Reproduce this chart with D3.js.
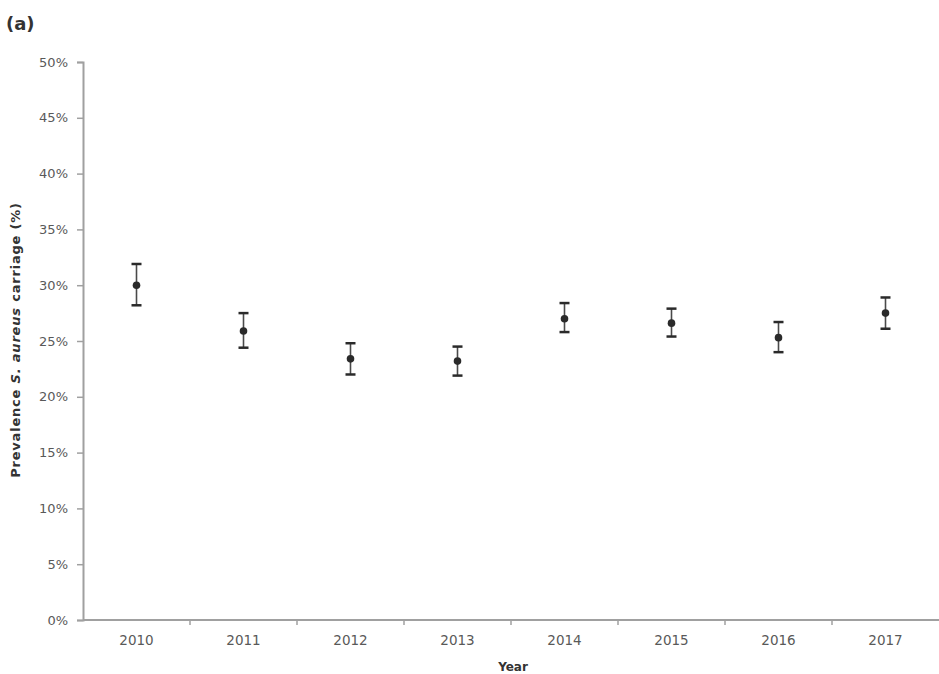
<!DOCTYPE html>
<html>
<head>
<meta charset="utf-8">
<script src="https://cdn.jsdelivr.net/npm/d3@7"></script>
<style>
  html, body { margin: 0; padding: 0; background: #fff; }
  svg { display: block; font-family: "DejaVu Sans", sans-serif; }
</style>
</head>
<body>
<svg id="chart" width="939" height="674"></svg>
<script>
// Prevalence of S. aureus carriage by year, with 95% CI bounds (%)
const years = ["2010", "2011", "2012", "2013", "2014", "2015", "2016", "2017"];
const prevalence = [30.0, 25.9, 23.4, 23.2, 27.0, 26.6, 25.3, 27.5];
const lowerCI = [28.2, 24.4, 22.0, 21.9, 25.8, 25.4, 24.0, 26.1];
const upperCI = [31.9, 27.5, 24.8, 24.5, 28.4, 27.9, 26.7, 28.9];
const yTicks = [0, 5, 10, 15, 20, 25, 30, 35, 40, 45, 50];

const svg = d3.select("#chart");
const margin = { left: 83, right: 0, top: 62, bottom: 54 };
const W = 939, H = 674;

const x = d3.scaleBand().domain(years).range([margin.left, W - margin.right]).padding(0);
const y = d3.scaleLinear().domain([0, 50]).range([H - margin.bottom, margin.top]);

const axisColor = "#a0a0a0";
const textColor = "#595959";

// Y axis
const yAxis = svg.append("g")
  .attr("transform", `translate(${margin.left},0)`)
  .call(d3.axisLeft(y).tickValues(yTicks).tickFormat(d => d + "%").tickSize(6).tickPadding(9));
yAxis.select(".domain").attr("stroke", axisColor).attr("stroke-width", 2);
yAxis.selectAll(".tick line").attr("stroke", axisColor).attr("stroke-width", 1.5);
yAxis.selectAll(".tick text")
  .attr("fill", textColor)
  .style("font-family", "'DejaVu Sans', sans-serif")
  .style("font-size", "13px");

// X axis: ticks sit on the band boundaries, labels in the band centres
const xAxisG = svg.append("g").attr("transform", `translate(0,${y(0)})`);
xAxisG.append("line")
  .attr("x1", margin.left).attr("x2", W)
  .attr("stroke", axisColor).attr("stroke-width", 2);
xAxisG.selectAll("line.tk")
  .data(years.slice(1))
  .join("line")
  .attr("class", "tk")
  .attr("x1", d => x(d)).attr("x2", d => x(d))
  .attr("y1", 0).attr("y2", 5)
  .attr("stroke", axisColor).attr("stroke-width", 1.5);
xAxisG.selectAll("text")
  .data(years)
  .join("text")
  .attr("x", d => x(d) + x.bandwidth() / 2)
  .attr("y", 25)
  .attr("text-anchor", "middle")
  .attr("fill", textColor)
  .style("font-size", "13.5px")
  .text(d => d);

// Error bars and points
const markColor = "#2a2a2a";
const g = svg.append("g");
years.forEach((yr, i) => {
  const cx = x(yr) + x.bandwidth() / 2;
  g.append("line")
    .attr("x1", cx).attr("x2", cx)
    .attr("y1", y(upperCI[i])).attr("y2", y(lowerCI[i]))
    .attr("stroke", "#4a4a4a").attr("stroke-width", 1.6);
  [upperCI[i], lowerCI[i]].forEach(v => {
    g.append("line")
      .attr("x1", cx - 5).attr("x2", cx + 5)
      .attr("y1", y(v)).attr("y2", y(v))
      .attr("stroke", markColor).attr("stroke-width", 2.5);
  });
  g.append("circle")
    .attr("cx", cx).attr("cy", y(prevalence[i]))
    .attr("r", 3.8)
    .attr("fill", markColor);
});

// Axis titles
const yTitle = svg.append("text")
  .attr("transform", `translate(20,${(y(0) + y(50)) / 2 - 1}) rotate(-90)`)
  .attr("text-anchor", "middle")
  .attr("fill", "#333")
  .style("font-size", "13px")
  .style("letter-spacing", "0.8px")
  .style("font-weight", "bold");
yTitle.append("tspan").text("Prevalence  ");
yTitle.append("tspan").style("font-style", "italic").text("S. aureus");
yTitle.append("tspan").text(" carriage (%)");

svg.append("text")
  .attr("x", 513).attr("y", 671)
  .attr("text-anchor", "middle")
  .attr("fill", "#333")
  .style("font-size", "12px")
  .style("font-weight", "bold")
  .text("Year");

// Panel label
svg.append("text")
  .attr("x", 6).attr("y", 30)
  .attr("fill", "#333")
  .style("font-size", "18px")
  .style("font-weight", "bold")
  .text("(a)");
</script>
</body>
</html>
